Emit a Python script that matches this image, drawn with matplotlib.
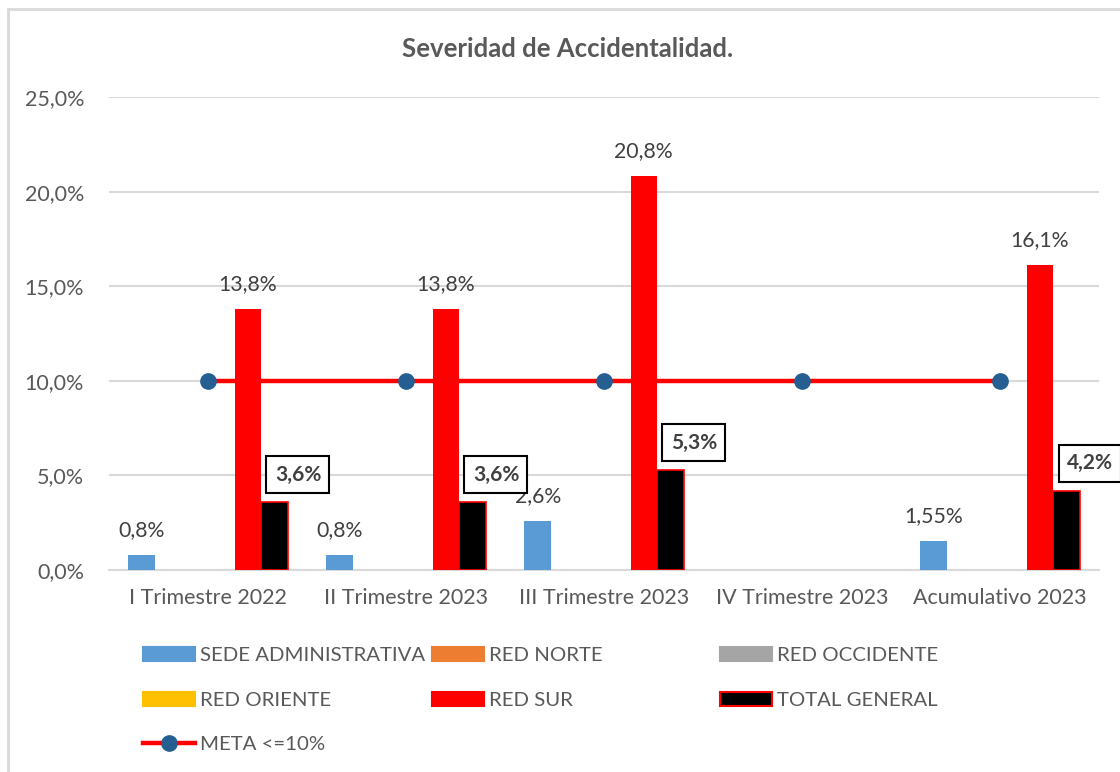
import numpy as np
import matplotlib
matplotlib.use("Agg")
import matplotlib.pyplot as plt
from matplotlib.lines import Line2D
from matplotlib.patches import Patch

plt.rcParams['font.family'] = ['Lato', 'DejaVu Sans']

categories = ["I Trimestre 2022", "II Trimestre 2023", "III Trimestre 2023",
              "IV Trimestre 2023", "Acumulativo 2023"]
nan = np.nan
sede_administrativa = [0.8, 0.8, 2.6, nan, 1.55]
red_norte = [nan, nan, nan, nan, nan]
red_occidente = [nan, nan, nan, nan, nan]
red_oriente = [nan, nan, nan, nan, nan]
red_sur = [13.8, 13.8, 20.8, nan, 16.1]
total_general = [3.6, 3.6, 5.3, nan, 4.2]
meta = [10, 10, 10, 10, 10]
yticks = [0, 5, 10, 15, 20, 25]

series_names = ["SEDE ADMINISTRATIVA", "RED NORTE", "RED OCCIDENTE",
                "RED ORIENTE", "RED SUR", "TOTAL GENERAL"]
series_vals = [sede_administrativa, red_norte, red_occidente, red_oriente,
               red_sur, total_general]
colors = ["#5B9BD5", "#ED7D31", "#A5A5A5", "#FFC000", "#FF0000", "#000000"]
edges = ["none", "none", "none", "none", "none", "#FF0000"]
txt = "#595959"

def fmt(v):
    s = f"{v:.2f}".rstrip('0')
    if s.endswith('.'):
        s += '0'
    return s.replace('.', ',') + '%'

fig = plt.figure(figsize=(11.2, 7.72), dpi=100)
ax = fig.add_axes([109/1120, 202/772, 990/1120, 473/772])

x = np.arange(len(categories))
w = 0.134
for i, (name, vals) in enumerate(zip(series_names, series_vals)):
    off = (i - 2.5) * w
    ax.bar(x + off, vals, width=w, color=colors[i], edgecolor=edges[i],
           linewidth=1.2 if edges[i] != "none" else 0, zorder=3)
    for xi, v in zip(x, vals):
        if np.isnan(v):
            continue
        if name == "TOTAL GENERAL":
            ax.annotate(fmt(v), (xi + off, v), xytext=(17, 19.5),
                        textcoords='offset points', ha='center', va='center',
                        fontsize=15, fontweight='bold', color='#404040', zorder=6,
                        bbox=dict(boxstyle='square,pad=0.4', fc='white',
                                  ec='black', lw=1.5))
        elif name in ("SEDE ADMINISTRATIVA", "RED SUR"):
            ax.annotate(fmt(v), (xi + off, v), xytext=(0, 18),
                        textcoords='offset points', ha='center', va='center',
                        fontsize=15.3, color='#404040', zorder=6)

ax.plot(x, meta, color='#FF0000', lw=3.2, marker='o', markersize=11,
        markerfacecolor='#255E91', markeredgecolor='#255E91', zorder=5)

ax.set_xlim(-0.5, len(categories) - 0.5)
ax.set_ylim(0, 25)
ax.set_yticks(yticks)
ax.set_yticklabels([f"{t:.1f}".replace('.', ',') + '%' for t in yticks])
ax.set_xticks(x)
ax.set_xticklabels(categories)
ax.tick_params(axis='both', length=0, labelsize=15.5, colors=txt)
ax.tick_params(axis='y', pad=18)
ax.tick_params(axis='x', pad=13)
ax.grid(axis='y', color='#D9D9D9', lw=1.5, zorder=0)
for s in ['left', 'right', 'top']:
    ax.spines[s].set_visible(False)
ax.spines['bottom'].set_color('#D9D9D9')
ax.spines['bottom'].set_linewidth(1.5)
ax.set_axisbelow(True)

fig.text(568/1120, 1 - 49/772, "Severidad de Accidentalidad.", ha='center',
         va='center', fontsize=18.5, fontweight='bold', color=txt)

# Legend: three columns of equal width
def ph(i):
    return Patch(facecolor=colors[i], edgecolor=edges[i] if edges[i] != "none" else colors[i], lw=1.5)

meta_handle = Line2D([], [], color='#FF0000', lw=3.2, marker='o', markersize=11,
                     markerfacecolor='#255E91', markeredgecolor='#255E91')
cols = [
    ([ph(0), ph(3), meta_handle], [series_names[0], series_names[3], "META <=10%"], 143),
    ([ph(1), ph(4)], [series_names[1], series_names[4]], 432),
    ([ph(2), ph(5)], [series_names[2], series_names[5]], 720),
]
for handles, labels, xpx in cols:
    leg = fig.legend(handles, labels, loc='upper left',
                     bbox_to_anchor=(xpx/1120, 1 - 647/772), frameon=False,
                     fontsize=14.7, labelcolor=txt, handlelength=2.55,
                     handleheight=0.67, handletextpad=0.25, labelspacing=1.35,
                     borderpad=0, borderaxespad=0)

fig.add_artist(Line2D([8/1120, 8/1120], [0, 1 - 9/772], color='#D9D9D9', lw=2))
fig.add_artist(Line2D([8/1120, 1], [1 - 9/772, 1 - 9/772], color='#D9D9D9', lw=2))

fig.savefig("out.png", dpi=100)
